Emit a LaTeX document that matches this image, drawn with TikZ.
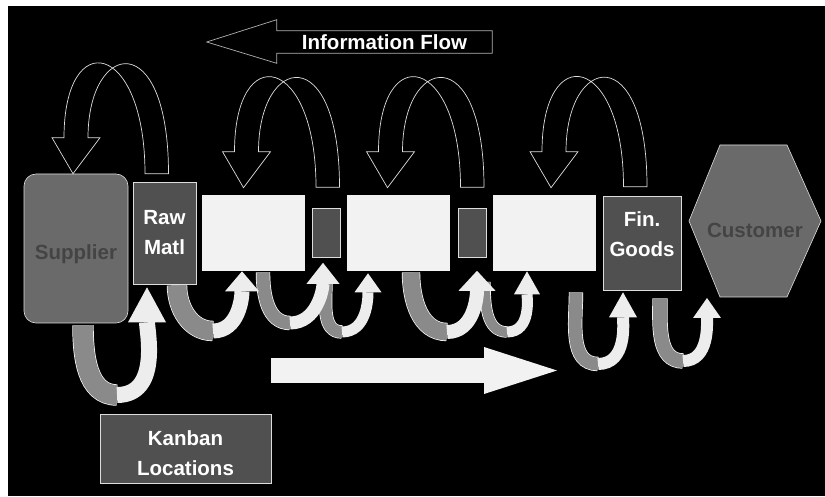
\documentclass[tikz,border=0pt]{standalone}
\usepackage{fontspec}
\setmainfont{Liberation Sans}
\usetikzlibrary{arrows.meta, positioning, calc}

\definecolor{darkbox}{HTML}{505050}
\definecolor{midbox}{HTML}{6A6A6A}
\definecolor{midink}{HTML}{444444}
\definecolor{bandgray}{HTML}{8A8A8A}
\definecolor{edge}{HTML}{DDDDDD}

\begin{document}
\begin{tikzpicture}[x=1pt, y=1pt, semithick, node distance=89pt,
    font=\fontsize{20.5}{30}\selectfont\bfseries]
        \tikzstyle{dark}=[fill=darkbox, draw=edge, line width=0.6pt, text=white, align=center, inner sep=0pt]
        \tikzstyle{plain}=[fill=white!95!black, inner sep=0pt, minimum width=103pt, minimum height=76pt]
        \tikzstyle{slot}=[dark, minimum width=28pt, minimum height=49pt]
        \tikzstyle{soft}=[fill=midbox, draw=edge, line width=0.6pt, text=midink, inner sep=0pt]
        \tikzstyle{kbloop}=[draw=edge, line width=0.7pt, line join=miter]
        \tikzstyle{pull}=[draw=white, line width=0.7pt, double=bandgray]
        \tikzstyle{push}=[draw=white!93!black]

        \useasboundingbox (0,0) rectangle (825,496);
        \fill[white] (0,0) rectangle (825,496);
        \fill[black] (8,0) rectangle (825,490);

        % boxes of the value stream
        \node[dark, minimum width=63pt, minimum height=102pt] (raw) at (164.5,263) {Raw\\Matl};
        \node[soft, rounded corners=12pt, minimum width=104pt, minimum height=149pt,
              label={[text=midink, yshift=-6pt]center:Supplier}] (sup) [left of=raw, node distance=88.5pt, yshift=-15.5pt] {};
        \node[plain] (w1) [right of=raw] {};
        \node[slot]  (s1) [right of=w1, node distance=72.5pt] {};
        \node[plain] (w2) [right of=s1, node distance=72.5pt] {};
        \node[slot]  (s2) [right of=w2, node distance=73.5pt] {};
        \node[plain] (w3) [right of=s2, node distance=72pt] {};
        \node[dark, minimum width=78pt, minimum height=94pt,
              label={[text=white, align=center, yshift=9pt]center:Fin.\\Goods}] (fin) [right of=w3, node distance=98pt, yshift=-10pt] {};

        \coordinate[right of=fin, node distance=113pt, yshift=22pt] (hc);
        \draw[fill=midbox, draw=edge, line width=0.6pt] (hc) ++(-66,0) -- ++(31,76) -- ++(67,0) -- ++(34,-76) -- ++(-34,-76) -- ++(-67,0) -- cycle;
        \node[text=midink] (cust) at ([yshift=-9pt]hc) {Customer};

        \node[dark, minimum width=171pt, minimum height=69pt,
              label={[text=white, align=center, yshift=-5pt]center:Kanban\\Locations}] (kanban) at (185.5,47.5) {};

        % information flow
        \node[fill=black, text=white, minimum width=215pt, minimum height=22pt, inner sep=0pt] (info) at (384.5,454) {Information Flow};
        \draw[edge!80!black, line width=0.7pt] (info.north east) -- (info.north west) -- ++(0,11) -- ([xshift=-70pt]info.west)
              -- ([yshift=-10pt]info.south west) -- (info.south west) -- (info.south east) -- cycle;

        \foreach \src/\tx/\ty/\dst/\hx/\hy in {raw/-8/8/sup/0/36, s1/1.5/21/w1/-7/43, s2/0/21/w2/-8/43, fin/-7/9/w3/10/43}{
            \coordinate (t) at ($(\src.north)+(\tx,\ty)$);
            \coordinate (h) at ($(\dst.north)+(\hx,\hy)$);
            \draw[kbloop] ($(h)+(12,0)$) .. controls +(0,97) and +(0,148) .. ($(t)+(12,0)$) -- ($(t)+(-11.5,0)$)
                  .. controls +(0,133) and +(0,112) .. ($(h)+(-12,0)$) -- ($(h)+(-24,0)$) -- ($(h)+(-3,-36)$) -- ($(h)+(24,0)$) -- cycle;
        }

        % material flow
        \foreach \src/\sx/\sy/\bx/\by/\dst/\tx/\ty/\gw/\ww/\hl/\hw in {
            fin/18/-8/683/135/hc/-48/-77/14/12/20/28,
            w3/32/-21/598/132/fin/-19/-2/13/12/25/28,
            s2/13/-24/507/164/w3/-17/0/10/11/23/26,
            w2/12.5/-1/447/164/s2/5/-13/17/14/20/37,
            s1/0/-24/342/164/w2/-30.5/-2/12/11/19/27,
            w1/9.5/-1/290/173/s1/-3/-5/13/13/21/33,
            raw/12.5/-1/213/165/w1/-11.5/0/19/15/20/34,
            sup/7/-2/117/101/raw/-17.5/-3/20/16/35/38}{
            \draw[pull, double distance=\gw pt] ($(\src.south)+(\sx,\sy)$) to[out=-90, in=180] (\bx,\by);
            \draw[push, line width=\ww pt, -{Triangle[length=\hl pt, width=\hw pt, line width=0pt]}] (\bx,\by) to[out=0, in=-90] ($(\dst.south)+(\tx,\ty)$);
        }

        \coordinate (mfa) at (271,125.5);
        \coordinate (mfb) at (557,125.5);
        \draw[white!95!black, line width=25pt, -{Triangle[length=73pt, width=47pt, line width=0pt]}] (mfa) -- (mfb);
\end{tikzpicture}
\end{document}
